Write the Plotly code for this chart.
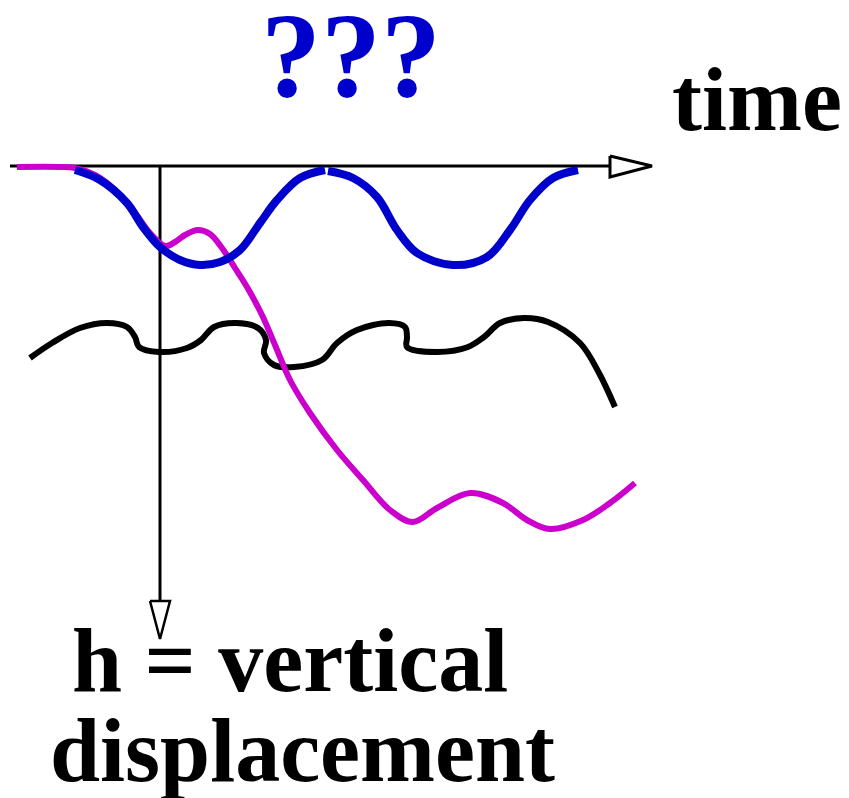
import plotly.graph_objects as go

# Blue oscillation (two arches), pixel-space coordinates of the diagram
blue1_x = [75, 100, 127, 143, 160, 180, 200, 220, 240, 260, 277, 300, 325]
blue1_y = [170, 180, 203, 227, 247, 260, 265, 262, 250, 223, 200, 178, 170]
blue2_x = [328, 353, 377, 397, 417, 453, 487, 510, 530, 553, 578]
blue2_y = [171, 178, 197, 230, 253, 265, 257, 230, 200, 178, 170]

# Magenta drifting curve
mag_x = [17, 60, 75, 95, 115, 135, 150, 165, 175, 185, 198, 210, 222, 235, 247, 262, 275, 290,
         310, 337, 363, 390, 413, 437, 470, 503, 527, 550, 583, 610, 635]
mag_y = [167, 167, 168, 175, 190, 213, 233, 246, 242, 235, 230, 234, 248, 268, 287, 315, 345, 380,
         413, 450, 480, 510, 522, 508, 493, 503, 520, 529, 520, 503, 483]

# Black wavy curve
blk_x = [30, 52, 80, 107, 127, 135, 139, 159, 187, 201, 214, 236, 258, 266, 264, 274, 294, 322,
         337, 357, 389, 405, 407, 407, 437, 468, 484, 500, 524, 548, 580, 599, 615]
blk_y = [358, 343, 328, 323, 327, 337, 347, 352, 348, 340, 327, 323, 328, 340, 353, 365, 367, 360,
         343, 330, 323, 327, 337, 347, 352, 347, 337, 323, 318, 322, 343, 373, 407]

# Axes
time_axis_x = [10, 610]
time_axis_y = [166, 166]
time_head_x = [610, 652, 610, 610]
time_head_y = [156, 166, 177, 156]
h_axis_x = [160, 160]
h_axis_y = [167, 601]
h_head_x = [150, 170, 160, 150]
h_head_y = [601, 601, 639, 601]

fig = go.Figure()

fig.add_trace(go.Scatter(x=time_axis_x, y=time_axis_y, mode="lines",
                         line=dict(color="black", width=3)))
fig.add_trace(go.Scatter(x=time_head_x, y=time_head_y, mode="lines", fill="toself",
                         fillcolor="white", line=dict(color="black", width=3)))
fig.add_trace(go.Scatter(x=h_axis_x, y=h_axis_y, mode="lines",
                         line=dict(color="black", width=3)))
fig.add_trace(go.Scatter(x=h_head_x, y=h_head_y, mode="lines", fill="toself",
                         fillcolor="white", line=dict(color="black", width=2.5)))

fig.add_trace(go.Scatter(x=blk_x, y=blk_y, mode="lines",
                         line=dict(color="black", width=6, shape="spline", smoothing=1.0)))
fig.add_trace(go.Scatter(x=mag_x, y=mag_y, mode="lines",
                         line=dict(color="#CC00CC", width=6, shape="spline", smoothing=1.0)))
fig.add_trace(go.Scatter(x=blue1_x, y=blue1_y, mode="lines",
                         line=dict(color="#0000CC", width=8, shape="spline", smoothing=1.0)))
fig.add_trace(go.Scatter(x=blue2_x, y=blue2_y, mode="lines",
                         line=dict(color="#0000CC", width=8, shape="spline", smoothing=1.0)))

font_black = dict(family="Liberation Serif", size=90, color="black")
fig.add_annotation(x=351, y=55, text="<b>???</b>", showarrow=False,
                   font=dict(family="Liberation Serif", size=120, color="#0000CC"),
                   xanchor="center", yanchor="middle")
fig.add_annotation(x=757, y=99, text="<b>time</b>", showarrow=False, font=font_black,
                   xanchor="center", yanchor="middle")
fig.add_annotation(x=290, y=660, text="<b>h = vertical</b>", showarrow=False, font=font_black,
                   xanchor="center", yanchor="middle")
fig.add_annotation(x=302, y=750, text="<b>displacement</b>", showarrow=False, font=font_black,
                   xanchor="center", yanchor="middle")

# the page body adds an 8px margin, so the visible window starts at 8
fig.update_layout(
    width=849, height=798,
    margin=dict(l=0, r=0, t=0, b=0),
    paper_bgcolor="white", plot_bgcolor="white",
    showlegend=False,
    xaxis=dict(range=[8, 857], visible=False, fixedrange=True),
    yaxis=dict(range=[806, 8], visible=False, fixedrange=True),
)

fig.write_html("out.html")
